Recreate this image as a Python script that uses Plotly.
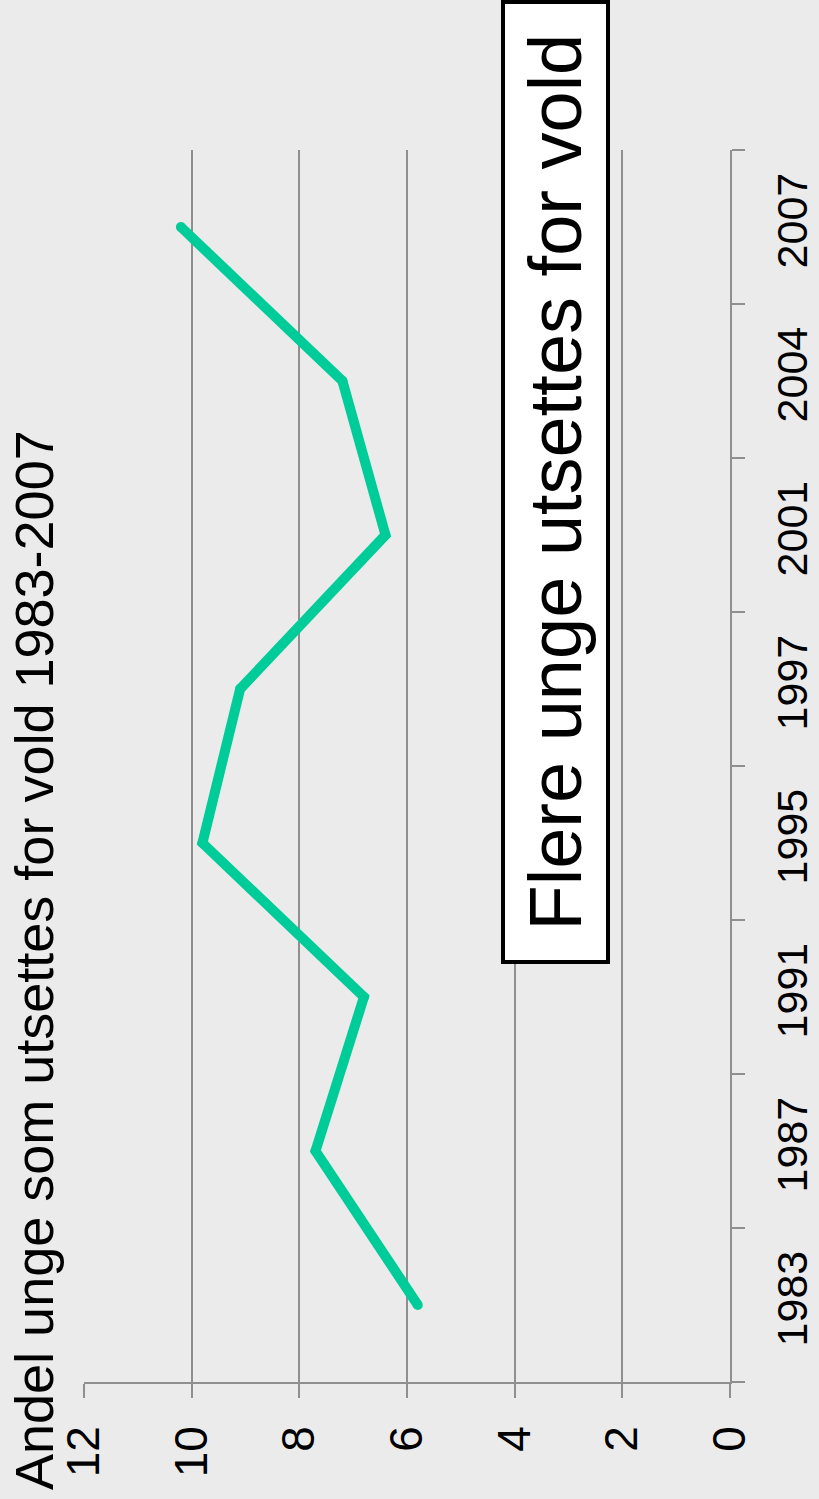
import plotly.graph_objects as go

years = ["1983", "1987", "1991", "1995", "1997", "2001", "2004", "2007"]
values = [5.8, 7.7, 6.8, 9.8, 9.1, 6.4, 7.2, 10.2]
value_ticks = [0, 2, 4, 6, 8, 10, 12]
title_text = "Andel unge som utsettes for vold 1983-2007"
headline = "Flere unge utsettes for vold"

FONT = "Liberation Sans, Arial, sans-serif"
BG = "#ebebeb"
GRID = "#8f8f8f"
LINE = "#00cc99"

fig = go.Figure()
fig.add_trace(go.Scatter(
    x=values, y=years, mode="lines+markers",
    line=dict(color=LINE, width=10),
    marker=dict(color=LINE, size=10, line=dict(width=0)),
    hoverinfo="skip", showlegend=False,
))

fig.update_layout(
    width=819, height=1499,
    paper_bgcolor=BG, plot_bgcolor=BG,
    margin=dict(l=84, r=89, t=150, b=117),
    font=dict(family=FONT, color="#000000"),
    xaxis=dict(
        range=[12, 0], tickvals=value_ticks, ticktext=[str(v) for v in value_ticks],
        showgrid=True, gridcolor=GRID, gridwidth=1.5, zeroline=False,
        showline=True, linecolor=GRID, linewidth=1.5,
        ticks="outside", ticklen=14, tickcolor=GRID, tickwidth=1.5,
        ticklabelstandoff=10, automargin=False,
        tickangle=-90, tickfont=dict(size=46, family=FONT, color="#000"),
    ),
    yaxis=dict(
        type="category", categoryorder="array", categoryarray=years,
        range=[-0.5, len(years) - 0.5],
        side="right", showgrid=False, zeroline=False,
        showline=True, linecolor=GRID, linewidth=1.5,
        ticks="outside", ticklen=13, tickcolor=GRID, tickwidth=1.5,
        tickson="boundaries", ticklabelstandoff=24, automargin=False,
        tickangle=-90, tickfont=dict(size=43, family=FONT, color="#000"),
    ),
    annotations=[
        dict(
            text=title_text, textangle=-90, showarrow=False,
            xref="paper", yref="paper", x=(34 - 84) / 646, y=(1382 - 960) / 1232,
            xanchor="center", yanchor="middle",
            font=dict(size=54, family=FONT, color="#000"),
        ),
        dict(
            text="\u00a0" + headline + "\u00a0", textangle=-90, showarrow=False,
            xref="paper", yref="paper", x=(556 - 84) / 646, y=(1382 - 482) / 1232,
            xanchor="center", yanchor="middle",
            font=dict(size=74, family=FONT, color="#000"),
            bgcolor="#ffffff", bordercolor="#000000", borderwidth=4, borderpad=9,
        ),
    ],
)

fig.write_html(
    "out.html",
    config={"displayModeBar": False},
    post_script="document.body.style.margin='0';document.body.style.overflow='hidden';",
)
